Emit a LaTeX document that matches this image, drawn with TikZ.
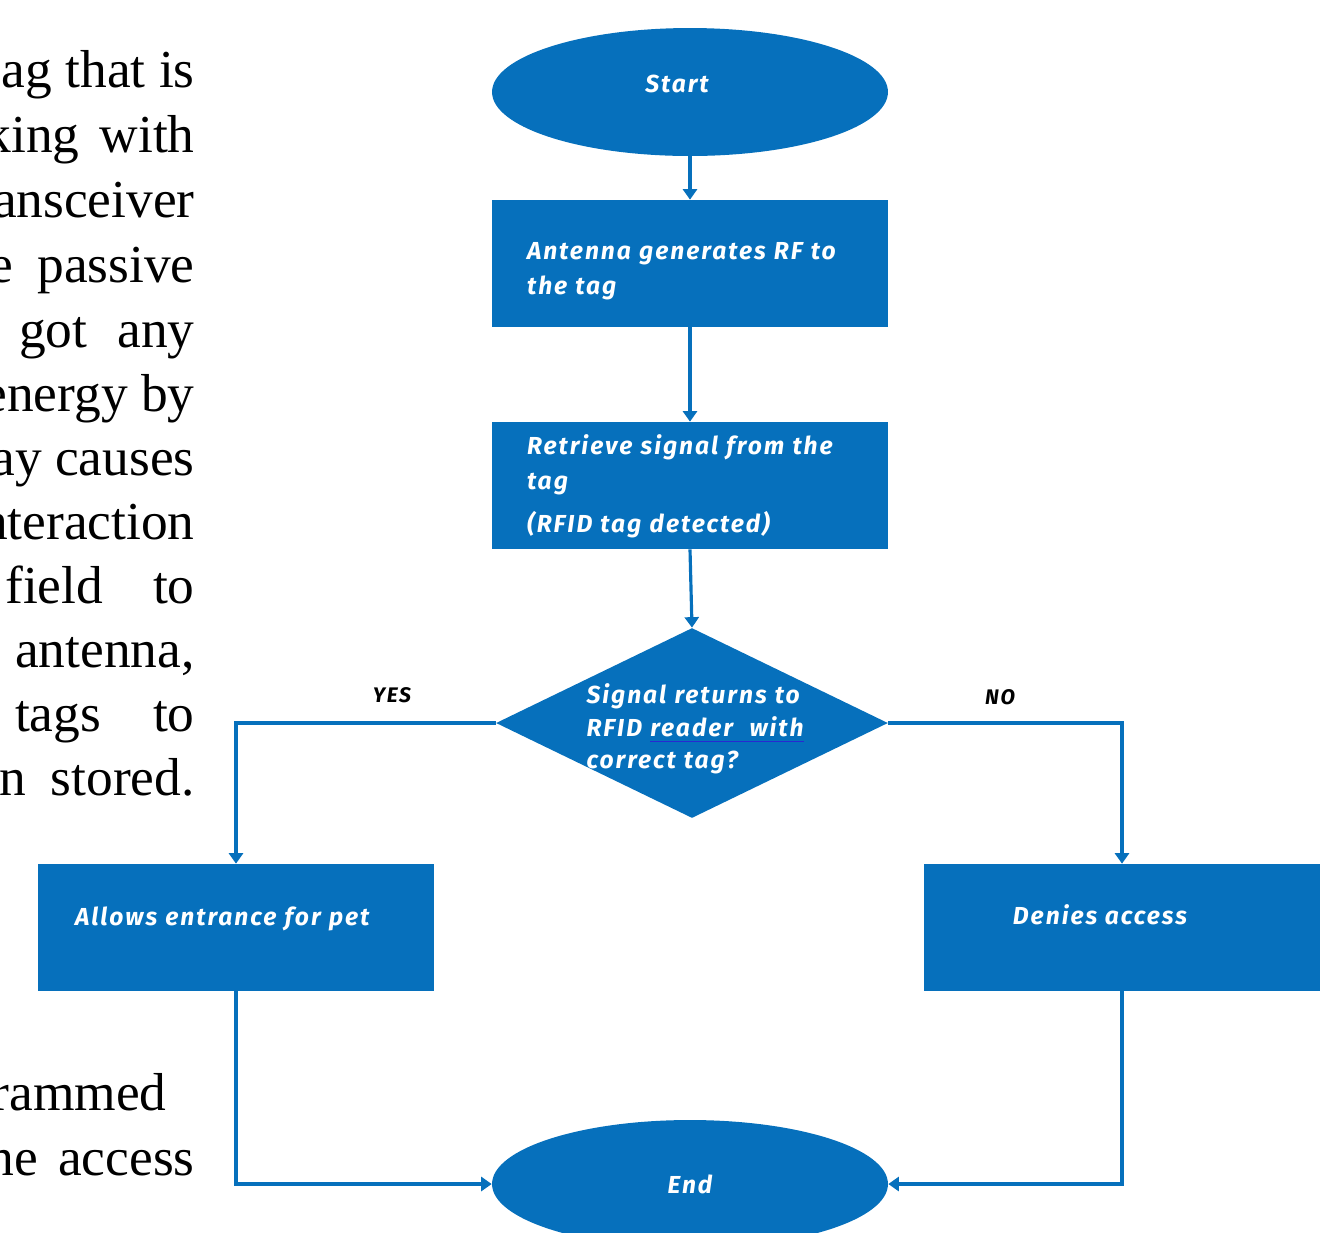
\documentclass[tikz,border=0pt]{standalone}
\usepackage{fontspec}
\setmainfont{Liberation Serif}
\newfontfamily\flowfont[LetterSpace=8]{Fira Sans}
\usetikzlibrary{shapes.geometric,arrows.meta}
\definecolor{flowblue}{RGB}{6,112,188}
\definecolor{ulblue}{RGB}{40,40,210}
\newcommand\flowtxt{\flowfont\bfseries\itshape\fontsize{14pt}{19.8pt}\selectfont}
\newcommand\bluline[1]{{\setbox0\hbox{#1}\rlap{\color{ulblue}\rule[-3.4pt]{\wd0}{0.8pt}}\box0}}
\begin{document}
\begin{tikzpicture}[x=0.02cm,y=-0.02cm,
  box/.style={rectangle, fill=flowblue, minimum width=7.92cm, minimum height=2.54cm, inner sep=0pt},
  term/.style={ellipse, fill=flowblue, minimum width=7.92cm, minimum height=2.56cm, inner sep=0pt},
  decision/.style={diamond, fill=flowblue, minimum width=7.84cm, minimum height=3.8cm, inner sep=0pt},
  intext/.style={text=white, font=\flowtxt, inner sep=0pt},
  boxtext/.style={intext, text width=6.52cm, align=left},
  answer/.style={text=black, font=\flowfont\bfseries\itshape\fontsize{12pt}{14pt}\selectfont, inner sep=0pt},
  conn/.style={draw=flowblue, line width=1.8pt, -{Triangle[width=8pt,length=6pt,fill=flowblue]}},
  para/.style={anchor=base east, inner sep=0pt, font=\fontsize{30.4pt}{34pt}\selectfont}]
\useasboundingbox (0,0) rectangle (1332,1232);
\clip (0,0) rectangle (1332,1232);
% left running text (cut off)
\node[para] (p1) at (195,87) {ag that is};
\node[para] (p2) at (195,152) {king\hspace{0.4cm}with};
\node[para] (p3) at (195,217) {ansceiver};
\node[para] (p4) at (195,282) {e\hspace{0.48cm}passive};
\node[para] (p5) at (195,347) {got\hspace{0.6cm}any};
\node[para] (p6) at (195,411) {energy by};
\node[para] (p7) at (195,475) {ay causes};
\node[para] (p8) at (195,539) {nteraction};
\node[para] (p9) at (195,603) {field\hspace{1.0cm}to};
\node[para] (p10) at (195,667) {antenna,};
\node[para] (p11) at (195,731) {tags\hspace{1.04cm}to};
\node[para] (p12) at (195,795) {n\hspace{0.5cm}stored.};
\node[para] (p13) at (167,1110) {rammed};
\node[para] (p14) at (195,1175) {he\hspace{0.4cm}access};
% flowchart
\node[term, label={[intext, xshift=-0.26cm, yshift=0.16cm]center:Start}] (start) at (690,92) {};
\node[box, label={[boxtext, yshift=-0.16cm]center:{Antenna generates RF to\\ the tag}}] (b1) at (690,263.5) {};
\node[box, label={[boxtext, yshift=-0.02cm]center:{Retrieve signal from the\\ tag\\[5pt] (RFID tag detected)}}] (b2) at (690,485.5) {};
\node[decision] (dec) at (692,723) {};
\node[intext, text width=4.5cm, align=left, font=\flowfont\bfseries\itshape\fontsize{14pt}{18.5pt}\selectfont] (dect) at (699,729) {Signal returns to\\ RFID \bluline{reader\ \ with}\\ correct tag?};
\node[box, label={[boxtext, xshift=0.04cm, yshift=0.17cm]center:Allows entrance for pet}] (allow) at (236,927.5) {};
\node[box, label={[intext, xshift=-0.44cm, yshift=0.25cm]center:Denies access}] (deny) at (1122,927.5) {};
\node[term, label={[intext]center:End}] (end) at (690,1184) {};
\node[answer] (yes) at (392,695) {YES};
\node[answer] (no) at (1000,697) {NO};
% connectors
\draw[conn] (start.south) -- (b1.north);
\draw[conn] (b1.south) -- (b2.north);
\draw[conn] (b2.south) -- (dec.north);
\draw[conn] (dec.west) -| (allow.north);
\draw[conn] (dec.east) -| (deny.north);
\draw[conn] (allow.south) |- (end.west);
\draw[conn] (deny.south) |- (end.east);
\end{tikzpicture}
\end{document}
